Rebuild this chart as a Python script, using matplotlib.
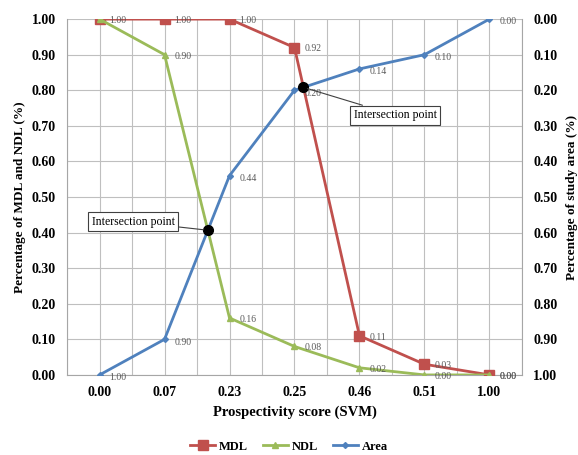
import matplotlib
matplotlib.use("Agg")
import matplotlib.pyplot as plt
from matplotlib.ticker import MultipleLocator, FormatStrFormatter
import numpy as np

categories = ["0.00", "0.07", "0.23", "0.25", "0.46", "0.51", "1.00"]
mdl = [1.00, 1.00, 1.00, 0.92, 0.11, 0.03, 0.00]
ndl = [1.00, 0.90, 0.16, 0.08, 0.02, 0.00, 0.00]
area = [1.00, 0.90, 0.44, 0.20, 0.14, 0.10, 0.00]

plt.rcParams['font.family'] = ['Liberation Serif', 'DejaVu Serif']

RED = '#C0504D'
GREEN = '#9BBB59'
BLUE = '#4F81BD'
LBL = '#595959'

fig = plt.figure(figsize=(5.78, 4.55), dpi=100)
ax = fig.add_axes([0.116, 0.176, 0.787, 0.782])
x = np.arange(len(categories))
area_left = [1 - a for a in area]

ax.plot(x, mdl, color=RED, lw=2, marker='s', ms=6.5, label='MDL', zorder=3)
ax.plot(x, ndl, color=GREEN, lw=2, marker='^', ms=5, label='NDL', zorder=3)
ax.plot(x, area_left, color=BLUE, lw=2, marker='D', ms=3, label='Area', zorder=3)

for xi, v in zip(x, mdl):
    ax.annotate(f"{v:.2f}", (xi, v), xytext=(7, -1), textcoords='offset points',
                fontsize=7, color=LBL, va='center', ha='left')
for xi, v in zip(x, ndl):
    if xi == 0:
        continue
    ax.annotate(f"{v:.2f}", (xi, v), xytext=(7, -1), textcoords='offset points',
                fontsize=7, color=LBL, va='center', ha='left')
for xi, v, a in zip(x, area_left, area):
    ax.annotate(f"{a:.2f}", (xi, v), xytext=(7, -2), textcoords='offset points',
                fontsize=7, color=LBL, va='center', ha='left')

# intersection points
def intersect(y1, y2, i):
    a0, a1 = y1[i], y1[i + 1]
    b0, b1 = y2[i], y2[i + 1]
    t = (b0 - a0) / ((a1 - a0) - (b1 - b0))
    return i + t, a0 + t * (a1 - a0)

p1 = intersect(ndl, area_left, 1)
p2 = intersect(mdl, area_left, 3)
for p in (p1, p2):
    ax.plot(*p, 'o', color='black', ms=7, zorder=5)

bbox = dict(boxstyle='square,pad=0.3', fc='white', ec='#404040', lw=0.8)
ax.annotate("Intersection point", xy=p1, xytext=(0.52, 0.43), fontsize=8.5,
            ha='center', va='center', bbox=bbox,
            arrowprops=dict(arrowstyle='-', color='#404040', lw=0.8,
                            shrinkA=0, shrinkB=3), zorder=6)
ax.annotate("Intersection point", xy=p2, xytext=(4.55, 0.73), fontsize=8.5,
            ha='center', va='center', bbox=bbox,
            arrowprops=dict(arrowstyle='-', color='#404040', lw=0.8,
                            shrinkA=0, shrinkB=3), zorder=6)

ax.set_xlim(-0.5, len(categories) - 0.5)
ax.set_ylim(0, 1)
ax.set_xticks(x)
ax.set_xticklabels(categories, fontweight='bold', fontsize=10)
ax.xaxis.set_minor_locator(MultipleLocator(0.5))
ax.yaxis.set_major_locator(MultipleLocator(0.1))
ax.yaxis.set_major_formatter(FormatStrFormatter('%.2f'))
for lab in ax.get_yticklabels():
    lab.set_fontweight('bold'); lab.set_fontsize(10)
ax.grid(True, which='both', color='#BFBFBF', lw=0.8)
ax.set_axisbelow(True)
ax.tick_params(axis='both', which='both', length=0, pad=8)
for s in ['top']:
    ax.spines[s].set_visible(False)
for s in ['left', 'bottom', 'right']:
    ax.spines[s].set_color('#A6A6A6')
ax.set_xlabel("Prospectivity score (SVM)", fontweight='bold', fontsize=10.5, labelpad=5)
ax.set_ylabel("Percentage of MDL and NDL (%)", fontweight='bold', fontsize=9.5, labelpad=4)

ax2 = ax.twinx()
ax2.set_ylim(1, 0)
ax2.yaxis.set_major_locator(MultipleLocator(0.1))
ax2.yaxis.set_major_formatter(FormatStrFormatter('%.2f'))
for lab in ax2.get_yticklabels():
    lab.set_fontweight('bold'); lab.set_fontsize(10)
ax2.tick_params(axis='y', length=0, pad=8)
for s in ['top', 'left', 'bottom', 'right']:
    ax2.spines[s].set_visible(False)
ax2.set_ylabel("Percentage of study area (%)", fontweight='bold', fontsize=9.5,
               rotation=90, labelpad=6)

handles, labels = ax.get_legend_handles_labels()
leg = fig.legend(handles, labels, loc='lower center', ncol=3, frameon=False,
                 bbox_to_anchor=(0.5, -0.02), prop={'weight': 'bold', 'size': 9},
                 handlelength=2.0, columnspacing=1.2, handletextpad=0.3)

fig.savefig("out.png", dpi=100)
